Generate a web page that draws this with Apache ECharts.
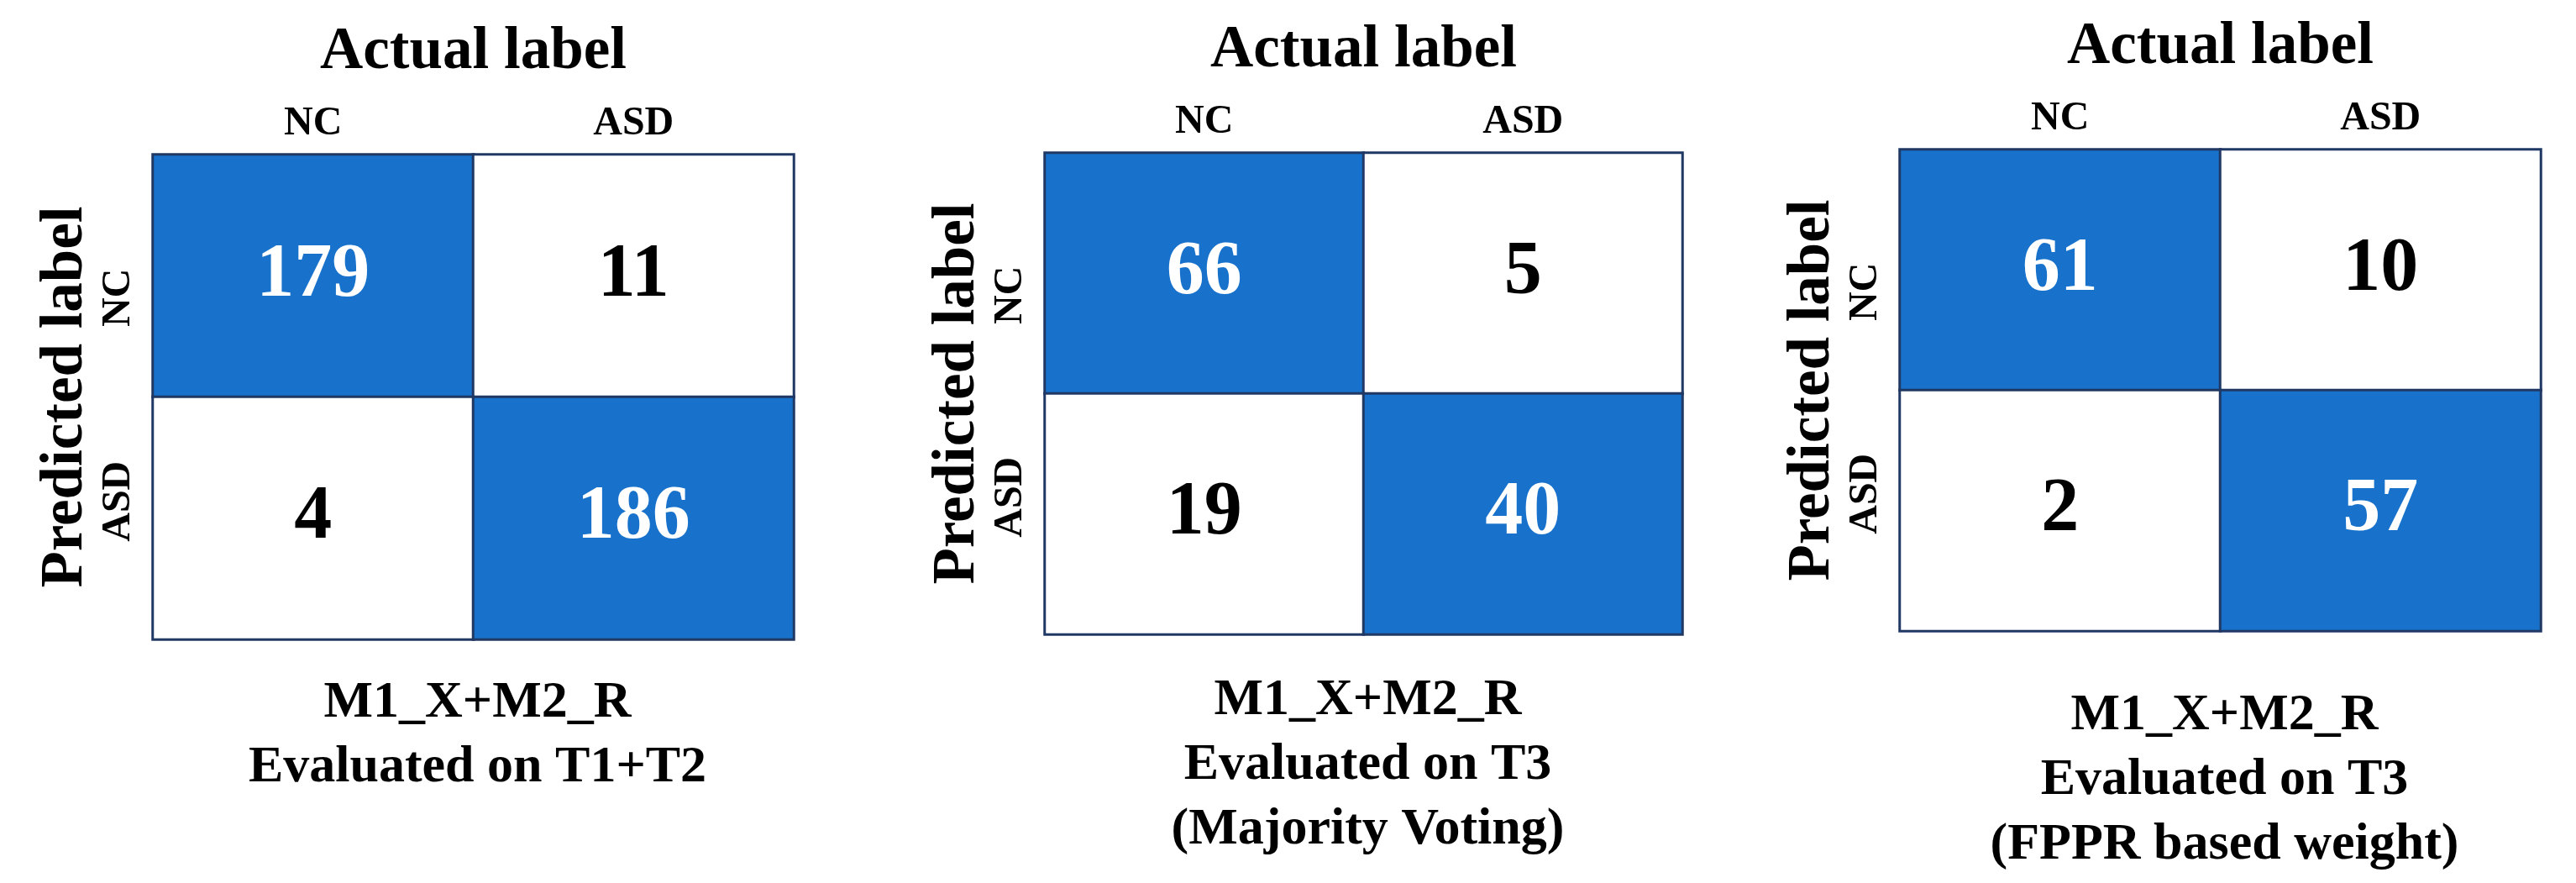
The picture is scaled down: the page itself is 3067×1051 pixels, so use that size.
<!DOCTYPE html>
<html>
<head>
    <meta charset="UTF-8">
    <title>Confusion matrices</title>
    <script src="https://cdn.jsdelivr.net/npm/echarts/dist/echarts.min.js"></script>
    <style>
        body { margin: 0; padding: 0; background: #fff; }
        #chart { width: 3067px; height: 1051px; }
    </style>
</head>
<body>
    <div id="chart"></div>
    <script>
        // class names (actual on top, predicted on the left)
        const classes = ['NC', 'ASD'];

        // rows = predicted label, cols = actual label
        const cmT1T2 = [[179, 11], [4, 186]];
        const cmVoting = [[66, 5], [19, 40]];
        const cmFppr = [[61, 10], [2, 57]];

        const captions = [
            'M1_X+M2_R\nEvaluated on T1+T2',
            'M1_X+M2_R\nEvaluated on T3\n(Majority Voting)',
            'M1_X+M2_R\nEvaluated on T3\n(FPPR based weight)'
        ];

        const font = "'Liberation Serif', 'Times New Roman', serif";
        const blue = '#1872CB';
        const edge = '#1F3864';

        const panels = [
            { cm: cmT1T2, left: 182, top: 184, width: 763, height: 577, capTop: 793 },
            { cm: cmVoting, left: 1244, top: 182, width: 759, height: 573, capTop: 790 },
            { cm: cmFppr, left: 2262, top: 178, width: 763, height: 573, capTop: 808 }
        ];

        function cells(cm) {
            const out = [];
            cm.forEach((row, r) => {
                row.forEach((v, c) => {
                    const diag = r === c;
                    out.push({
                        value: [c, r, v],
                        itemStyle: { color: diag ? blue : '#fff' },
                        label: { color: diag ? '#fff' : '#000' }
                    });
                });
            });
            return out;
        }

        const chart = echarts.init(document.getElementById('chart'));
        const option = {
            animation: false,
            textStyle: { fontFamily: font },
            title: panels.map((p, i) => ({
                text: captions[i],
                left: p.left + p.width / 2,
                top: p.capTop,
                textAlign: 'center',
                textStyle: { fontFamily: font, fontSize: 62, fontWeight: 'bold', lineHeight: 77, color: '#000' }
            })),
            grid: panels.map(p => ({ left: p.left, top: p.top, width: p.width, height: p.height })),
            xAxis: panels.map((p, i) => ({
                type: 'category',
                gridIndex: i,
                data: classes,
                position: 'top',
                name: 'Actual label',
                nameLocation: 'middle',
                nameGap: 86,
                nameTextStyle: { fontFamily: font, fontSize: 71, fontWeight: 'bold', color: '#000' },
                axisLine: { show: false },
                axisTick: { show: false },
                axisLabel: { fontFamily: font, fontSize: 48, fontWeight: 'bold', color: '#000', margin: 12 }
            })),
            yAxis: panels.map((p, i) => ({
                type: 'category',
                gridIndex: i,
                data: classes,
                inverse: true,
                name: 'Predicted label',
                nameLocation: 'middle',
                nameGap: 68,
                nameTextStyle: { fontFamily: font, fontSize: 71, fontWeight: 'bold', color: '#000' },
                axisLine: { show: false },
                axisTick: { show: false },
                axisLabel: {
                    fontFamily: font, fontSize: 48, fontWeight: 'bold', color: '#000', margin: 16, rotate: 90,
                    // row labels sit a little toward the middle line
                    formatter: (v, idx) => idx === 0 ? '{lo|' + v + '}' : '{hi|' + v + '}',
                    rich: {
                        lo: { fontFamily: font, fontSize: 48, fontWeight: 'bold', color: '#000', padding: [0, 52, 0, 0] },
                        hi: { fontFamily: font, fontSize: 48, fontWeight: 'bold', color: '#000', padding: [0, 0, 0, 40] }
                    }
                }
            })),
            series: panels.map((p, i) => ({
                type: 'heatmap',
                xAxisIndex: i,
                yAxisIndex: i,
                data: cells(p.cm),
                itemStyle: { borderColor: edge, borderWidth: 3 },
                label: { show: true, fontFamily: font, fontSize: 90, fontWeight: 'bold', formatter: d => d.value[2] },
                emphasis: { disabled: true }
            }))
        };
        chart.setOption(option);
    </script>
</body>
</html>
